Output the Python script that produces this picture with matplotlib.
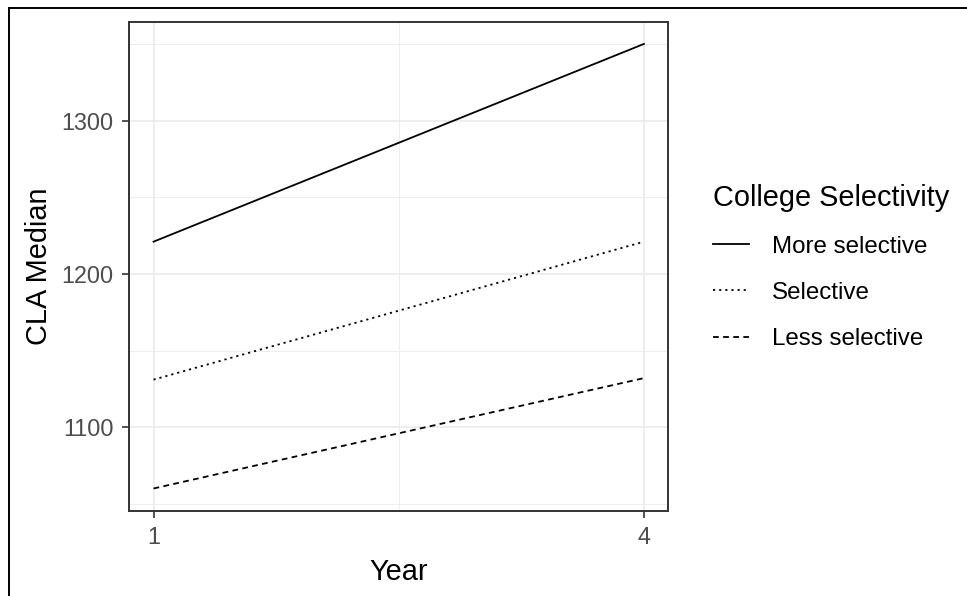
import matplotlib.pyplot as plt
from matplotlib.lines import Line2D

plt.rcParams['font.family'] = ['Liberation Sans', 'DejaVu Sans']

year = [1, 4]
more_selective = [1221, 1350]
selective = [1131, 1221]
less_selective = [1060, 1132]
labels = ['More selective', 'Selective', 'Less selective']

fig = plt.figure(figsize=(9.67, 5.96), dpi=100)
ax = fig.add_axes([0.1334, 0.1431, 0.5579, 0.8205])

ax.plot(year, more_selective, color='black', lw=1.3, label=labels[0])
ax.plot(year, selective, color='black', lw=1.3, dashes=(1.2, 2.2), label=labels[1])
ax.plot(year, less_selective, color='black', lw=1.3, dashes=(3.2, 2.4), label=labels[2])

ax.set_xlim(0.85, 4.15)
ax.set_ylim(1045.5, 1364.5)
ax.set_xticks([1, 4])
ax.set_yticks([1100, 1200, 1300])
ax.set_xticks([2.5], minor=True)
ax.set_yticks([1050, 1150, 1250, 1350], minor=True)

ax.grid(True, which='major', color='#ebebeb', lw=1.2)
ax.grid(True, which='minor', color='#ebebeb', lw=0.6)
ax.set_axisbelow(True)
for s in ax.spines.values():
    s.set_color('#333333')
    s.set_linewidth(1.4)
ax.tick_params(which='major', length=5, width=1.2, color='#333333',
               labelsize=16.8, labelcolor='#4d4d4d', pad=6)
ax.tick_params(which='minor', length=0)

ax.set_xlabel('Year', fontsize=20.8, labelpad=6.5)
ax.set_ylabel('CLA Median', fontsize=20.8, labelpad=6)

fig.legend(title='College Selectivity', loc='upper left',
           bbox_to_anchor=(0.7147, 0.7285), frameon=False,
           fontsize=17.4, title_fontsize=20.8, handlelength=1.5,
           handletextpad=0.95, labelspacing=1.0, alignment='left')

# outer frame seen on the top and left edges
fig.add_artist(Line2D([8.5 / 967, 8.5 / 967], [0, 1 - 7.5 / 596], color='black', lw=1.4))
fig.add_artist(Line2D([8.5 / 967, 1], [1 - 7.5 / 596, 1 - 7.5 / 596], color='black', lw=1.4))

plt.savefig('out.png', dpi=100)
plt.close()
